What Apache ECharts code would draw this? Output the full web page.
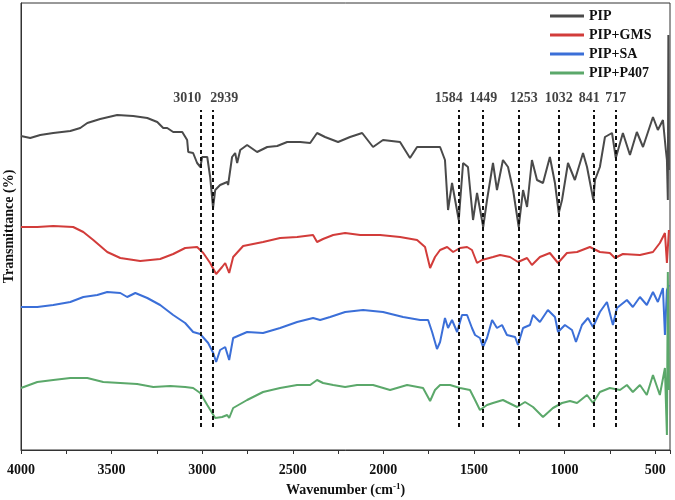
<!DOCTYPE html>
<html lang="en">
<head>
    <meta charset="UTF-8">
    <script src="https://cdn.jsdelivr.net/npm/echarts@6/dist/echarts.min.js"></script>
    <style>
        body { margin: 0; background: #fff; }
        #chart { width: 675px; height: 500px; }
    </style>
</head>
<body>
    <div id="chart"></div>
    <script>
        // [wavenumber cm-1, transmittance (arbitrary offset units)]
        const pip = [
            [4000, 314], [3949, 312], [3894, 315], [3822, 317], [3728, 319], [3673, 322], [3634, 327],
            [3563, 331], [3469, 335], [3381, 334], [3303, 332], [3248, 328], [3215, 322], [3193, 322],
            [3160, 318], [3110, 318], [3083, 310], [3077, 298], [3050, 297], [3028, 287], [3010, 283],
            [3000, 293], [2972, 293], [2956, 273], [2940, 242], [2928, 260], [2901, 265], [2862, 268],
            [2857, 265], [2835, 293], [2818, 297], [2807, 287], [2790, 300], [2752, 305], [2697, 298],
            [2641, 303], [2586, 304], [2531, 308], [2459, 308], [2404, 307], [2366, 317], [2322, 313],
            [2250, 308], [2184, 313], [2117, 317], [2057, 303], [2002, 310], [1908, 308], [1853, 292],
            [1814, 303], [1759, 303], [1687, 303], [1660, 290], [1643, 240], [1621, 267], [1604, 250],
            [1584, 230], [1560, 287], [1533, 283], [1505, 230], [1483, 257], [1449, 223], [1428, 250],
            [1395, 287], [1373, 260], [1340, 290], [1312, 283], [1284, 260], [1253, 223], [1229, 260],
            [1207, 243], [1180, 290], [1152, 270], [1119, 267], [1081, 293], [1053, 267], [1032, 237],
            [1014, 250], [981, 287], [943, 270], [898, 297], [876, 283], [841, 250], [832, 270],
            [805, 283], [777, 313], [738, 317], [717, 292], [678, 317], [639, 295], [601, 318],
            [567, 303], [512, 333], [485, 320], [457, 330], [441, 300], [435, 290], [430, 250],
            [427, 415], [424, 280]
        ];
        const gms = [
            [4000, 223], [3910, 223], [3822, 224], [3712, 223], [3656, 218], [3601, 210], [3524, 198],
            [3452, 192], [3342, 189], [3232, 191], [3160, 196], [3094, 202], [3028, 203], [2994, 197],
            [2956, 187], [2923, 176], [2890, 183], [2873, 187], [2851, 177], [2829, 193], [2774, 204],
            [2664, 208], [2570, 212], [2476, 213], [2388, 215], [2366, 208], [2333, 211], [2277, 215],
            [2211, 217], [2128, 215], [2018, 215], [1908, 213], [1814, 210], [1770, 203], [1742, 182],
            [1715, 193], [1687, 200], [1648, 203], [1615, 198], [1577, 202], [1538, 203], [1511, 200],
            [1483, 187], [1456, 190], [1395, 193], [1356, 195], [1301, 193], [1257, 188], [1207, 192],
            [1180, 185], [1136, 193], [1081, 197], [1036, 187], [987, 197], [931, 198], [860, 203],
            [805, 198], [750, 197], [722, 192], [678, 196], [584, 195], [512, 198], [474, 207],
            [446, 217], [435, 187], [424, 220]
        ];
        const sa = [
            [4000, 143], [3910, 143], [3822, 145], [3728, 148], [3656, 153], [3579, 155], [3524, 158],
            [3452, 157], [3414, 153], [3369, 157], [3303, 152], [3232, 145], [3160, 135], [3094, 127],
            [3050, 118], [3011, 116], [2967, 107], [2939, 97], [2923, 88], [2901, 100], [2873, 103],
            [2851, 90], [2829, 112], [2752, 118], [2664, 117], [2570, 122], [2476, 128], [2388, 132],
            [2349, 130], [2294, 133], [2211, 138], [2112, 140], [2002, 138], [1891, 133], [1797, 130],
            [1753, 130], [1731, 118], [1704, 101], [1687, 108], [1660, 132], [1643, 122], [1621, 130],
            [1593, 118], [1566, 135], [1538, 135], [1511, 122], [1494, 115], [1467, 112], [1450, 103],
            [1428, 112], [1400, 130], [1373, 122], [1345, 125], [1318, 115], [1273, 113], [1257, 105],
            [1229, 122], [1191, 125], [1174, 135], [1136, 128], [1092, 140], [1053, 133], [1036, 118],
            [998, 125], [959, 120], [937, 108], [904, 125], [871, 132], [843, 123], [805, 138],
            [766, 148], [733, 125], [711, 142], [656, 150], [623, 143], [584, 153], [546, 145],
            [512, 158], [485, 148], [457, 162], [446, 115], [435, 160], [424, 165]
        ];
        const p407 = [
            [4000, 62], [3910, 68], [3822, 70], [3728, 72], [3634, 72], [3546, 68], [3452, 67],
            [3359, 66], [3270, 63], [3176, 64], [3094, 63], [3050, 62], [3011, 57], [2972, 45],
            [2928, 32], [2890, 33], [2862, 35], [2851, 32], [2829, 42], [2752, 50], [2697, 55],
            [2664, 58], [2570, 62], [2476, 65], [2404, 65], [2366, 70], [2333, 67], [2277, 65],
            [2211, 63], [2145, 65], [2057, 65], [1963, 60], [1869, 65], [1781, 62], [1742, 49],
            [1715, 60], [1687, 65], [1632, 65], [1577, 62], [1522, 60], [1494, 50], [1467, 40],
            [1428, 45], [1395, 47], [1340, 50], [1318, 48], [1262, 43], [1218, 48], [1174, 43],
            [1119, 33], [1064, 42], [1014, 47], [970, 49], [931, 47], [876, 55], [843, 47],
            [805, 58], [750, 62], [694, 60], [656, 65], [623, 58], [584, 65], [546, 55],
            [512, 75], [474, 55], [446, 82], [441, 50], [435, 15], [430, 178], [424, 60]
        ];
        const peaks = [3010, 2939, 1584, 1449, 1253, 1032, 841, 717];
        const seriesNames = ['PIP', 'PIP+GMS', 'PIP+SA', 'PIP+P407'];
        const xTicks = [4000, 3500, 3000, 2500, 2000, 1500, 1000, 500];

        const colors = ['#4a4a4a', '#d23c3a', '#3b6fd8', '#5ba86a'];
        const labelShift = [-13, 11, -10, 0, 5, 0, -4, 0];
        const serif = "'Liberation Serif', 'Times New Roman', serif";

        const chart = echarts.init(document.getElementById('chart'));

        // x is plotted as -wavenumber so the axis runs 4000 -> 400 with ticks from 4000
        const flip = arr => arr.map(p => [-p[0], p[1]]);

        const lines = [pip, gms, sa, p407].map((d, i) => ({
            name: seriesNames[i],
            type: 'line',
            data: flip(d),
            showSymbol: false,
            symbol: 'none',
            sampling: false,
            lineStyle: { color: colors[i], width: 2 },
            itemStyle: { color: colors[i] },
            z: 3
        }));

        const option = {
            animation: false,
            grid: {
                left: 21, right: 5, top: 3, bottom: 50,
                containLabel: false, outerBoundsMode: 'none',
                show: true, borderColor: '#333', borderWidth: 1
            },
            legend: {
                data: seriesNames,
                orient: 'vertical',
                left: 545,
                top: 3,
                icon: 'rect',
                itemWidth: 34,
                itemHeight: 3,
                itemGap: 3,
                textStyle: { fontFamily: serif, fontWeight: 'bold', fontSize: 14, color: '#111', lineHeight: 16 }
            },
            xAxis: {
                type: 'value',
                min: -4000,
                max: -418,
                interval: 250,
                name: 'Wavenumber (cm{sup|-1})',
                nameLocation: 'middle',
                nameGap: 32,
                nameTextStyle: {
                    fontFamily: serif, fontWeight: 'bold', fontSize: 14, color: '#111',
                    rich: { sup: { fontFamily: serif, fontWeight: 'bold', fontSize: 9, color: '#111', padding: [0, 0, 7, 0] } }
                },
                axisLine: { onZero: false, lineStyle: { color: '#333', width: 1 } },
                axisTick: { show: true, length: 4, lineStyle: { color: '#333' } },
                axisLabel: {
                    margin: 13,
                    fontFamily: serif, fontWeight: 'bold', fontSize: 14, color: '#111',
                    formatter: v => xTicks.indexOf(-v) >= 0 ? String(-v) : ''
                },
                splitLine: { show: false }
            },
            yAxis: {
                type: 'value',
                min: 0,
                max: 447,
                name: 'Transmittance (%)',
                nameLocation: 'middle',
                nameGap: 5,
                nameTextStyle: { fontFamily: serif, fontWeight: 'bold', fontSize: 14, color: '#111' },
                axisLine: { show: true, onZero: false, lineStyle: { color: '#333', width: 1 } },
                axisTick: { show: false },
                axisLabel: { show: false },
                splitLine: { show: false }
            },
            series: lines.concat([
                {
                    name: 'peaks',
                    type: 'line',
                    data: [],
                    silent: true,
                    markLine: {
                        silent: true,
                        symbol: ['none', 'none'],
                        label: { show: false },
                        lineStyle: { color: '#111', type: [4, 3], width: 2 },
                        data: peaks.map(p => [{ coord: [-p, 23] }, { coord: [-p, 340] }])
                    }
                },
                {
                    name: 'peakLabels',
                    type: 'scatter',
                    symbolSize: 0,
                    silent: true,
                    data: peaks.map((p, i) => ({
                        value: [-p, 352],
                        label: { offset: [labelShift[i], 0] }
                    })),
                    label: {
                        show: true,
                        position: 'inside',
                        formatter: p => String(-p.value[0]),
                        fontFamily: serif, fontWeight: 'bold', fontSize: 14, color: '#111'
                    }
                }
            ])
        };

        chart.setOption(option);
        window.addEventListener('resize', () => chart.resize());
    </script>
</body>
</html>
